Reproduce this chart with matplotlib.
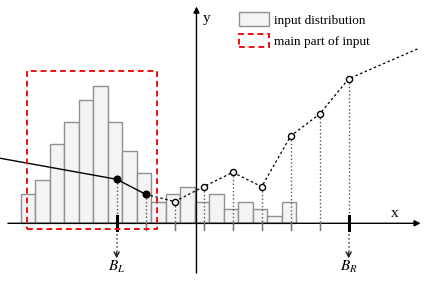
'''
Histogram of the input with a piecewise linear curve over it
'''
import matplotlib
matplotlib.use("Agg")
import matplotlib.pyplot as plt
from matplotlib.patches import Patch, Rectangle

# Input distribution (counts per bin, bins of width 0.5)
bin_counts = [4, 6, 11, 14, 17, 19, 14, 10, 7, 3, 4, 5, 3, 4, 2, 3, 2, 1, 3]
bin_start = -3.31
bin_width = 0.5

# Knots of the curve; B_L at 0 and B_R at 8
knot_x = [0, 1, 2, 3, 4, 5, 6, 7, 8]
knot_y = [6.07, 4.0, 3.0, 5.05, 7.03, 5.05, 12.04, 15.08, 19.94]
# Extensions past the outer knots
left_end = (-4.1, 9.03)
right_end = (10.4, 24.1)

# Main part of input (box)
main_x = (-3.08, 1.38)
main_y = (-0.83, 21.05)

plt.rcParams['font.family'] = ['Liberation Serif', 'DejaVu Serif']
plt.rcParams['mathtext.fontset'] = 'stix'

fig = plt.figure(figsize=(4.28, 2.81), dpi=100)
ax = fig.add_axes([0, 0, 1, 1])
ax.set_xlim(-4.024, 10.734)
ax.set_ylim(-7.96, 30.8)
ax.axis('off')

# Histogram bars
lefts = [bin_start + i * bin_width for i in range(len(bin_counts))]
ax.bar(lefts, bin_counts, width=bin_width, align='edge',
       facecolor='#f4f4f4', edgecolor='#909090', linewidth=1.0, zorder=2)

# Axes with arrows
ax.annotate('', xy=(10.48, 0), xytext=(-3.75, 0),
            arrowprops=dict(arrowstyle='-|>', color='black', lw=1.0,
                            mutation_scale=9, shrinkA=0, shrinkB=0), zorder=3)
ax.annotate('', xy=(2.75, 29.9), xytext=(2.75, -6.86),
            arrowprops=dict(arrowstyle='-|>', color='black', lw=1.0,
                            mutation_scale=9, shrinkA=0, shrinkB=0), zorder=3)
ax.text(9.6, 1.3, 'x', fontsize=11, ha='center', va='center')
ax.text(3.1, 28.3, 'y', fontsize=11, ha='center', va='center')

# Vertical dotted lines from knots down past the axis
for kx, ky in zip(knot_x, knot_y):
    ax.plot([kx, kx], [ky, -0.92], ls=':', color='#555555', lw=1.0, zorder=3)
    ax.plot([kx, kx], [0, -0.92], ls='-', color='#777777', lw=1.0, zorder=3)

# Thick ticks and arrows for B_L and B_R
for kx, name in [(knot_x[0], '$B_L$'), (knot_x[-1], '$B_R$')]:
    ax.plot([kx, kx], [1.0, -0.92], color='black', lw=2.2, zorder=4)
    ax.plot([kx, kx], [-0.92, -4.6], ls=':', color='#444444', lw=1.1)
    ax.annotate('', xy=(kx, -4.85), xytext=(kx, -4.0),
                arrowprops=dict(arrowstyle='->', color='#222222', lw=1.0,
                                mutation_scale=9, shrinkA=0, shrinkB=0))
    ax.text(kx, -6.0, name, fontsize=11, ha='center', va='center')

# Curve: solid part on the main input, dotted elsewhere
ax.plot([left_end[0], knot_x[0], knot_x[1]], [left_end[1], knot_y[0], knot_y[1]],
        color='black', lw=1.0, zorder=5)
ax.plot(knot_x[1:] + [right_end[0]], knot_y[1:] + [right_end[1]],
        color='black', lw=0.9, ls=(0, (2, 2)), zorder=5)
ax.plot(knot_x[:2], knot_y[:2], 'o', color='black', ms=4.8, zorder=6)
ax.plot(knot_x[2:], knot_y[2:], 'o', mfc='white', mec='black', mew=1.0,
        ms=4.4, zorder=6)

# Main part box
ax.add_patch(Rectangle((main_x[0], main_y[0]), main_x[1] - main_x[0],
                       main_y[1] - main_y[0], fill=False, edgecolor='#ee1111',
                       lw=1.4, ls=(0, (3, 2)), zorder=7))

handles = [Patch(facecolor='#f4f4f4', edgecolor='#909090', lw=1.0),
           Patch(fill=False, edgecolor='#ee1111', lw=1.4, ls=(0, (3, 2)))]
ax.legend(handles, ['input distribution', 'main part of input'],
          loc='upper left', bbox_to_anchor=(239 / 428, 1 - 12.5 / 281),
          frameon=False, fontsize=9.5, borderpad=0, borderaxespad=0,
          handlelength=2.27, handleheight=1.15, handletextpad=0.38,
          labelspacing=0.55)

fig.savefig('out.png', dpi=100)
